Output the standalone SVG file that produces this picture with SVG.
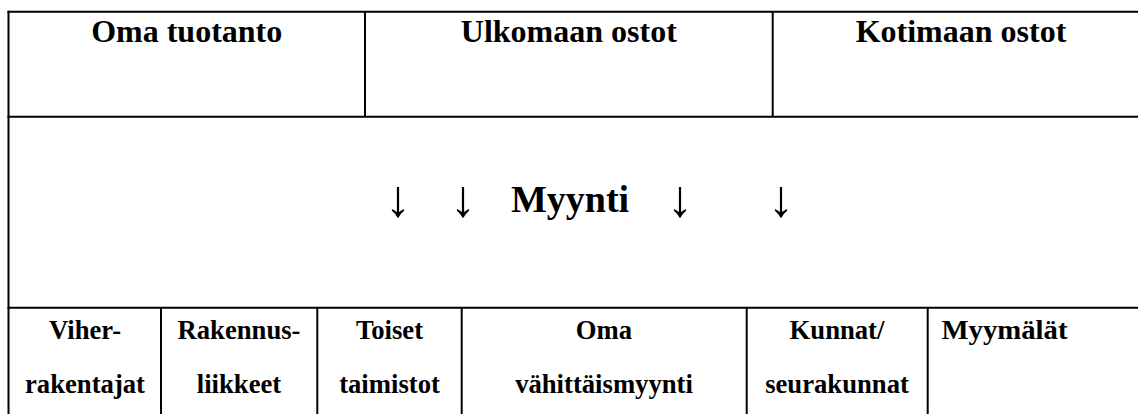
<svg xmlns="http://www.w3.org/2000/svg" width="1138" height="414" viewBox="0 0 1138 414">
<style>
.ln{stroke:#000;stroke-width:2;fill:none}
text{font-family:'Liberation Serif','DejaVu Serif',serif;fill:#000;text-anchor:middle}
.h{font-weight:bold;font-size:32px}
.b{font-weight:bold;font-size:26.67px}
.m{font-weight:bold;font-size:38px}
.a{font-size:52px}
</style>
<rect width="1138" height="414" fill="#fff"/>
<g id="grid">
<line class="ln" x1="7.5" y1="11.8" x2="1138" y2="11.8"/>
<line class="ln" x1="7.5" y1="116.7" x2="1138" y2="116.7"/>
<line class="ln" x1="7.5" y1="307.7" x2="1138" y2="307.7"/>
<line class="ln" x1="8.5" y1="10.8" x2="8.5" y2="414"/>
<line class="ln" x1="365" y1="11.8" x2="365" y2="116.7"/>
<line class="ln" x1="772.7" y1="11.8" x2="772.7" y2="116.7"/>
<line class="ln" x1="161" y1="307.7" x2="161" y2="414"/>
<line class="ln" x1="317.3" y1="307.7" x2="317.3" y2="414"/>
<line class="ln" x1="461.7" y1="307.7" x2="461.7" y2="414"/>
<line class="ln" x1="746.7" y1="307.7" x2="746.7" y2="414"/>
<line class="ln" x1="927.7" y1="307.7" x2="927.7" y2="414"/>
</g>
<g id="oma-tuotanto"><text class="h" x="186.7" y="42">Oma tuotanto</text></g>
<g id="ulkomaan-ostot"><text class="h" x="568.8" y="42">Ulkomaan ostot</text></g>
<g id="kotimaan-ostot"><text class="h" x="961" y="42">Kotimaan ostot</text></g>
<g id="myynti">
<text class="a" x="398" y="216">↓</text>
<text class="a" x="463" y="216">↓</text>
<text class="m" x="570" y="212">Myynti</text>
<text class="a" x="680" y="216">↓</text>
<text class="a" x="781" y="216">↓</text>
</g>
<g id="viherrakentajat"><text class="b" x="85" y="339">Viher-</text><text class="b" x="85" y="393">rakentajat</text></g>
<g id="rakennusliikkeet"><text class="b" x="239" y="339">Rakennus-</text><text class="b" x="239" y="393">liikkeet</text></g>
<g id="toiset-taimistot"><text class="b" x="389.5" y="339">Toiset</text><text class="b" x="389.5" y="393">taimistot</text></g>
<g id="oma-vahittaismyynti"><text class="b" x="604" y="339">Oma</text><text class="b" x="604" y="393">vähittäismyynti</text></g>
<g id="kunnat-seurakunnat"><text class="b" x="837" y="339">Kunnat/</text><text class="b" x="837" y="393">seurakunnat</text></g>
<g id="myymalat"><text class="b" x="1004.5" y="339" textLength="126" lengthAdjust="spacingAndGlyphs">Myymälät</text></g>
</svg>
